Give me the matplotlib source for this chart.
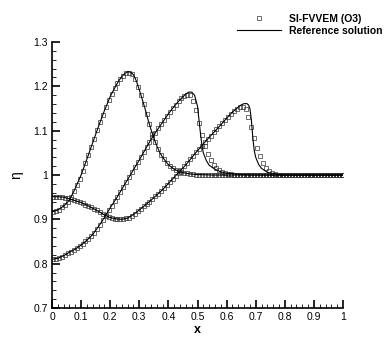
import numpy as np
import matplotlib
matplotlib.use("Agg")
import matplotlib.pyplot as plt
from matplotlib.lines import Line2D
from matplotlib.ticker import MultipleLocator

plt.rcParams['font.family'] = ['Liberation Sans', 'DejaVu Sans']

# ---------------- data ----------------
# Reference solution (three time levels)
ref_x_a = [0.0, 0.02, 0.04, 0.06, 0.08, 0.10, 0.12, 0.14, 0.16, 0.18, 0.20, 0.22, 0.23, 0.24, 0.25,
           0.26, 0.27, 0.28, 0.29, 0.30, 0.31, 0.32, 0.33, 0.34, 0.35, 0.36, 0.37, 0.38, 0.40, 0.42,
           0.44, 0.46, 0.48, 0.50, 0.55, 1.0]
ref_eta_a = [0.917, 0.921, 0.930, 0.943, 0.970, 1.000, 1.036, 1.073, 1.110, 1.145, 1.177, 1.202, 1.213,
             1.222, 1.229, 1.233, 1.232, 1.226, 1.212, 1.192, 1.171, 1.149, 1.125, 1.103, 1.083, 1.066,
             1.051, 1.040, 1.023, 1.013, 1.007, 1.004, 1.002, 1.001, 1.000, 1.000]

ref_x_b = [0.0, 0.02, 0.04, 0.06, 0.08, 0.10, 0.12, 0.14, 0.16, 0.18, 0.20, 0.22, 0.24, 0.26, 0.28,
           0.30, 0.32, 0.34, 0.36, 0.38, 0.40, 0.42, 0.44, 0.46, 0.48, 0.50, 0.52, 0.54, 0.56, 0.58,
           0.60, 0.62, 0.64, 0.65, 0.66, 0.67, 0.675, 0.68, 0.685, 0.69, 0.695, 0.70, 0.71, 0.72,
           0.74, 0.76, 0.78, 0.80, 1.0]
ref_eta_b = [0.951, 0.951, 0.950, 0.946, 0.942, 0.938, 0.932, 0.925, 0.918, 0.910, 0.904, 0.901, 0.900,
             0.903, 0.911, 0.921, 0.932, 0.943, 0.955, 0.967, 0.981, 0.995, 1.009, 1.023, 1.039, 1.055,
             1.070, 1.085, 1.099, 1.113, 1.128, 1.142, 1.153, 1.158, 1.161, 1.161, 1.158, 1.150, 1.125,
             1.085, 1.055, 1.040, 1.024, 1.015, 1.006, 1.003, 1.001, 1.000, 1.000]

ref_x_c = [0.0, 0.02, 0.04, 0.06, 0.08, 0.10, 0.12, 0.14, 0.16, 0.18, 0.20, 0.22, 0.24, 0.26, 0.28,
           0.30, 0.32, 0.34, 0.36, 0.38, 0.40, 0.42, 0.44, 0.46, 0.47, 0.48, 0.49, 0.50, 0.505, 0.51,
           0.515, 0.52, 0.53, 0.54, 0.56, 0.58, 0.60, 0.62, 0.65, 0.70, 1.0]
ref_eta_c = [0.810, 0.812, 0.818, 0.826, 0.833, 0.842, 0.853, 0.866, 0.884, 0.904, 0.926, 0.946, 0.968,
             0.990, 1.012, 1.034, 1.057, 1.080, 1.100, 1.119, 1.138, 1.155, 1.170, 1.183, 1.187, 1.187,
             1.180, 1.155, 1.125, 1.095, 1.068, 1.050, 1.033, 1.022, 1.013, 1.007, 1.004, 1.003, 1.001,
             1.000, 1.000]

# SI-FVVEM (O3) numerical solution, cell centres x = 0.005, 0.015, ..., 0.995
num_eta_a = [0.917, 0.919, 0.922, 0.927, 0.933, 0.939, 0.950, 0.963, 0.977, 0.992,
             1.008, 1.027, 1.045, 1.064, 1.082, 1.101, 1.119, 1.136, 1.153, 1.169,
             1.183, 1.196, 1.207, 1.217, 1.224, 1.229, 1.230, 1.227, 1.216, 1.199,
             1.180, 1.160, 1.137, 1.114, 1.093, 1.074, 1.058, 1.046, 1.036, 1.028,
             1.021, 1.016, 1.012, 1.009, 1.006, 1.005, 1.004, 1.003, 1.002, 1.001,
             1.000, 1.000, 1.000, 1.000, 1.000, 1.000, 1.000, 1.000, 1.000, 1.000,
             1.000, 1.000, 1.000, 1.000, 1.000, 1.000, 1.000, 1.000, 1.000, 1.000,
             1.000, 1.000, 1.000, 1.000, 1.000, 1.000, 1.000, 1.000, 1.000, 1.000,
             1.000, 1.000, 1.000, 1.000, 1.000, 1.000, 1.000, 1.000, 1.000, 1.000,
             1.000, 1.000, 1.000, 1.000, 1.000, 1.000, 1.000, 1.000, 1.000, 1.000]

num_eta_b = [0.951, 0.951, 0.951, 0.950, 0.949, 0.947, 0.945, 0.943, 0.941, 0.939,
             0.936, 0.933, 0.930, 0.927, 0.923, 0.920, 0.916, 0.912, 0.908, 0.905,
             0.903, 0.901, 0.900, 0.900, 0.900, 0.902, 0.904, 0.908, 0.913, 0.918,
             0.923, 0.929, 0.935, 0.940, 0.946, 0.952, 0.958, 0.964, 0.971, 0.977,
             0.984, 0.991, 0.998, 1.005, 1.012, 1.020, 1.027, 1.035, 1.043, 1.051,
             1.059, 1.066, 1.074, 1.081, 1.089, 1.096, 1.103, 1.110, 1.117, 1.124,
             1.131, 1.138, 1.144, 1.149, 1.153, 1.154, 1.148, 1.131, 1.108, 1.083,
             1.060, 1.042, 1.028, 1.016, 1.009, 1.005, 1.003, 1.001, 1.000, 1.000,
             1.000, 1.000, 1.000, 1.000, 1.000, 1.000, 1.000, 1.000, 1.000, 1.000,
             1.000, 1.000, 1.000, 1.000, 1.000, 1.000, 1.000, 1.000, 1.000, 1.000]

num_eta_c = [0.810, 0.811, 0.813, 0.816, 0.819, 0.823, 0.827, 0.831, 0.835, 0.840,
             0.845, 0.850, 0.856, 0.862, 0.870, 0.878, 0.887, 0.898, 0.909, 0.920,
             0.931, 0.941, 0.951, 0.962, 0.973, 0.984, 0.995, 1.006, 1.018, 1.029,
             1.040, 1.051, 1.063, 1.074, 1.085, 1.095, 1.105, 1.114, 1.124, 1.133,
             1.142, 1.151, 1.159, 1.166, 1.173, 1.178, 1.181, 1.180, 1.168, 1.146,
             1.118, 1.090, 1.065, 1.047, 1.033, 1.023, 1.016, 1.011, 1.007, 1.005,
             1.003, 1.002, 1.001, 1.000, 1.000, 1.000, 1.000, 1.000, 1.000, 1.000,
             1.000, 1.000, 1.000, 1.000, 1.000, 1.000, 1.000, 1.000, 1.000, 1.000,
             1.000, 1.000, 1.000, 1.000, 1.000, 1.000, 1.000, 1.000, 1.000, 1.000,
             1.000, 1.000, 1.000, 1.000, 1.000, 1.000, 1.000, 1.000, 1.000, 1.000]

num_x = np.arange(100) * 0.01 + 0.005

x_ticks = [0, 0.1, 0.2, 0.3, 0.4, 0.5, 0.6, 0.7, 0.8, 0.9, 1]
x_tick_labels = ['0', '0.1', '0.2', '0.3', '0.4', '0.5', '0.6', '0.7', '0.8', '0.9', '1']
y_ticks = [0.7, 0.8, 0.9, 1.0, 1.1, 1.2, 1.3]
y_tick_labels = ['0.7', '0.8', '0.9', '1', '1.1', '1.2', '1.3']

# ---------------- figure ----------------
fig = plt.figure(figsize=(3.9, 3.47), dpi=100)
ax = fig.add_axes([52 / 390, 1 - 308 / 347, (343 - 52) / 390, (308 - 42) / 347])

mk = dict(linestyle='none', marker='s', markersize=2.6, markerfacecolor='none',
          markeredgecolor='#333333', markeredgewidth=0.5)
for eta in (num_eta_a, num_eta_b, num_eta_c):
    ax.plot(num_x, eta, **mk)
for xs, eta in ((ref_x_a, ref_eta_a), (ref_x_b, ref_eta_b), (ref_x_c, ref_eta_c)):
    ax.plot(xs, eta, color='black', linewidth=0.8)

ax.set_xlim(0, 1)
ax.set_ylim(0.7, 1.3)
ax.set_xticks(x_ticks)
ax.set_xticklabels(x_tick_labels)
ax.set_yticks(y_ticks)
ax.set_yticklabels(y_tick_labels)
ax.xaxis.set_minor_locator(MultipleLocator(0.02))
ax.yaxis.set_minor_locator(MultipleLocator(0.02))
ax.tick_params(which='major', direction='in', length=6, width=1.2, labelsize=7.5, pad=3)
ax.tick_params(which='minor', direction='in', length=3, width=0.6)
for s in ('top', 'right'):
    ax.spines[s].set_visible(False)
for s in ('left', 'bottom'):
    ax.spines[s].set_linewidth(1.2)

ax.set_xlabel('x', fontsize=9, fontweight='bold', labelpad=1)
ax.set_ylabel('η', fontsize=10, labelpad=7)

handles = [Line2D([], [], **mk),
           Line2D([], [], color='black', linewidth=0.8)]
ax.legend(handles, ['SI-FVVEM (O3)', 'Reference solution'], loc='upper left',
          bbox_to_anchor=(237 / 390, 1 - 14 / 347), bbox_transform=fig.transFigure,
          frameon=False, handlelength=4.2, handletextpad=0.8, labelspacing=0.2,
          borderpad=0, borderaxespad=0,
          prop={'weight': 'bold', 'size': 7.5})

fig.savefig('out.png', dpi=100)
